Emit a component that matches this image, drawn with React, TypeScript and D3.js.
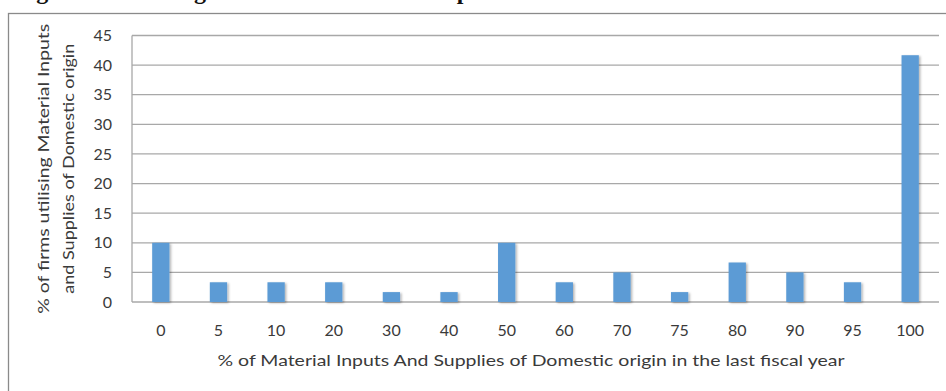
import React from "react";
import * as d3 from "d3";

// Share of domestic material inputs (x categories, %) and share of firms (%)
const categories = ["0", "5", "10", "20", "30", "40", "50", "60", "70", "75", "80", "90", "95", "100"];
const firmShares = [10, 3.33, 3.33, 3.33, 1.67, 1.67, 10, 3.33, 5, 1.67, 6.67, 5, 3.33, 41.67];
const yTicks = [0, 5, 10, 15, 20, 25, 30, 35, 40, 45];

const titleText = "Figure 9: Sourcing of Domestic Material Inputs";
const xTitle = "% of Material Inputs And Supplies of Domestic origin in the last fiscal year";
const yTitleLines = ["% of firms utilising Material Inputs", "and Supplies of Domestic origin"];

const W = 946;
const H = 391;
const plot = { left: 132, right: 939, top: 35.5, bottom: 302 };
const font = "Lato, 'Open Sans', sans-serif";
const textColor = "#3a3a3a";
const gridColor = "#a8a8a8";
const barColor = "#5b9bd5";

export default function App() {
  const x = d3
    .scaleBand<string>()
    .domain(categories)
    .range([plot.left, plot.right])
    .paddingInner(0.7)
    .paddingOuter(0.35);
  const y = d3.scaleLinear().domain([0, 45]).range([plot.bottom, plot.top]);
  const midY = (plot.top + plot.bottom) / 2;

  return (
    <svg
      width={W}
      height={H}
      viewBox={`0 0 ${W} ${H}`}
      style={{ position: "absolute", left: 0, top: 0, background: "#fff" }}
    >
      <defs>
        <filter id="barShadow" x="-50%" y="-10%" width="200%" height="130%">
          <feDropShadow dx="1.5" dy="1" stdDeviation="1.2" floodColor="#000" floodOpacity="0.3" />
        </filter>
      </defs>

      {/* caption line sitting above the top edge of the page */}
      <text
        x={15}
        y={-1}
        fontFamily="'Liberation Serif', 'DejaVu Serif', serif"
        fontWeight="bold"
        fontSize={24}
        fill="#111"
      >
        {titleText}
      </text>

      {/* chart frame */}
      <rect x={8.5} y={13.5} width={980} height={420} fill="#fff" stroke="#8a8a8a" strokeWidth={1.3} />

      {/* gridlines */}
      {yTicks.map((t) => (
        <line
          key={t}
          x1={plot.left}
          x2={plot.right}
          y1={y(t)}
          y2={y(t)}
          stroke={gridColor}
          strokeWidth={1.3}
        />
      ))}
      <line x1={plot.left} x2={plot.left} y1={plot.top} y2={plot.bottom} stroke={gridColor} strokeWidth={1.3} />

      {/* bars */}
      <g filter="url(#barShadow)">
        {categories.map((c, i) => (
          <rect
            key={c}
            x={x(c)}
            y={y(firmShares[i])}
            width={x.bandwidth()}
            height={y(0) - y(firmShares[i])}
            fill={barColor}
          />
        ))}
      </g>

      {/* y tick labels */}
      {yTicks.map((t) => (
        <text
          key={t}
          x={112}
          y={y(t)}
          dy="0.35em"
          textAnchor="end"
          fontFamily={font}
          fontSize={16}
          fill={textColor}
        >
          {t}
        </text>
      ))}

      {/* x tick labels */}
      {categories.map((c) => (
        <text
          key={c}
          x={(x(c) as number) + x.bandwidth() / 2}
          y={330}
          dy="0.35em"
          textAnchor="middle"
          fontFamily={font}
          fontSize={16}
          fill={textColor}
        >
          {c}
        </text>
      ))}

      {/* axis titles */}
      <text
        x={531}
        y={360}
        dy="0.35em"
        textAnchor="middle"
        fontFamily={font}
        fontSize={16}
        fill={textColor}
        textLength={627}
        lengthAdjust="spacingAndGlyphs"
      >
        {xTitle}
      </text>
      {yTitleLines.map((line, i) => (
        <text
          key={line}
          transform={`translate(${43 + i * 25}, ${midY}) rotate(-90)`}
          dy="0.35em"
          textAnchor="middle"
          fontFamily={font}
          fontSize={16}
          fill={textColor}
          textLength={i === 0 ? 290 : 250}
          lengthAdjust="spacingAndGlyphs"
        >
          {line}
        </text>
      ))}
    </svg>
  );
}
